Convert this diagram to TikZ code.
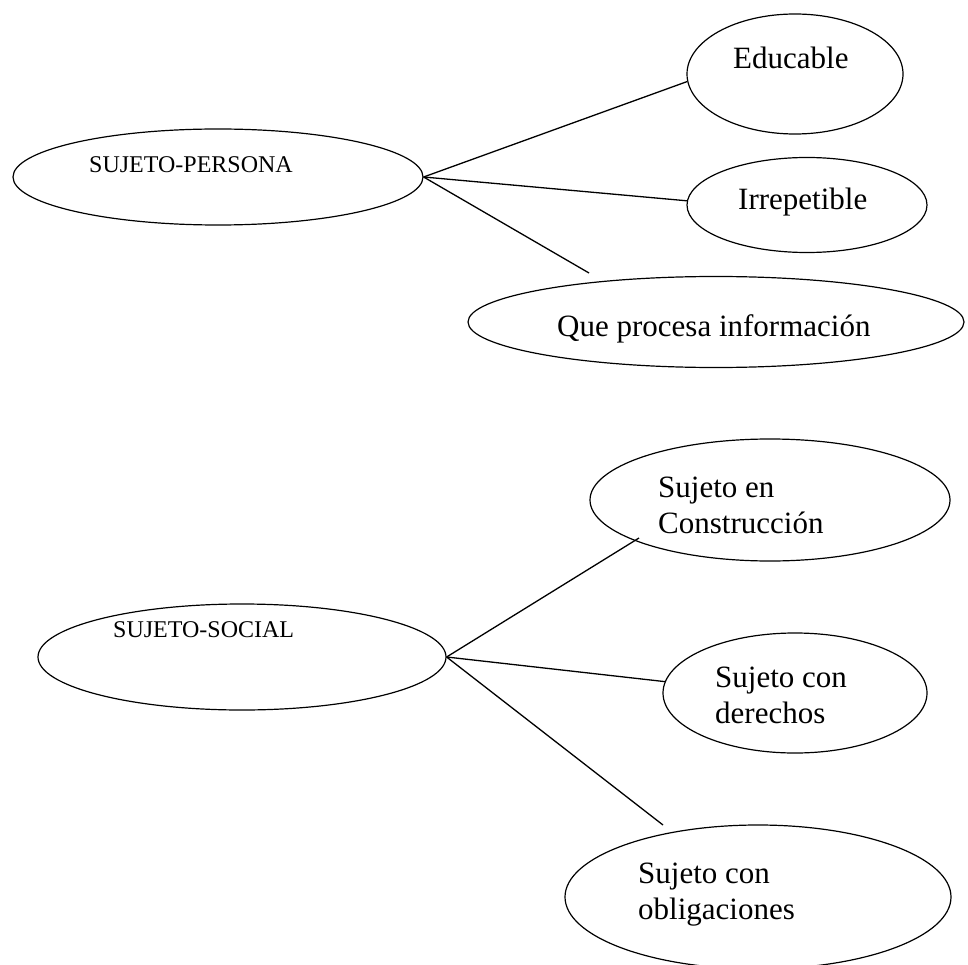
\documentclass[tikz,border=0pt]{standalone}
\usepackage{fontspec}
\setmainfont{Liberation Serif}
\usetikzlibrary{shapes.geometric}
\tikzset{
    bubble/.style={draw, ellipse, line width=1.2pt, inner sep=0pt},
    smalltext/.style={anchor=base west, inner sep=0pt, font=\fontsize{24}{28}\selectfont},
    bigtext/.style={anchor=base west, inner sep=0pt, align=left, font=\fontsize{31}{36}\selectfont},
    link/.style={line width=1.3pt}
}

\begin{document}
\begin{tikzpicture}[x=1pt, y=-1pt]
    \useasboundingbox (0,0) rectangle (968,965);

    % first group
    \node[bubble, minimum width=410, minimum height=96] (persona) at (218,177) {};
    \node[smalltext] (persona-text) at (89,173) {SUJETO-PERSONA};

    \node[bubble, minimum width=216, minimum height=120] (edu) at (795,74) {};
    \node[bigtext] (edu-text) at (733,69) {Educable};

    \node[bubble, minimum width=240, minimum height=95] (irr) at (807,205) {};
    \node[bigtext] (irr-text) at (738,210) {Irrepetible};

    \node[bubble, minimum width=496, minimum height=91] (que) at (716,322) {};
    \node[bigtext] (que-text) at (557,336) {Que procesa información};
    \coordinate (que-tip) at (589,273);

    \draw[link] (persona.east) -- (edu.184);
    \draw[link] (persona.east) -- (irr.178);
    \draw[link] (persona.east) -- (que-tip);

    % second group
    \node[bubble, minimum width=408, minimum height=106] (social) at (242,657) {};
    \node[smalltext] (social-text) at (113,637) {SUJETO-SOCIAL};

    \node[bubble, minimum width=360, minimum height=122] (constr) at (770,500) {};
    \node[bigtext] (constr-text) at (658,533) {Sujeto en\\Construcción};
    \coordinate (constr-tip) at (639,538);

    \node[bubble, minimum width=264, minimum height=120] (der) at (795,693) {};
    \node[bigtext] (der-text) at (715,723) {Sujeto con\\derechos};

    \node[bubble, minimum width=386, minimum height=144] (oblig) at (758,897) {};
    \node[bigtext] (oblig-text) at (638,919) {Sujeto con\\obligaciones};
    \coordinate (oblig-tip) at (663,825);

    \draw[link] (social.east) -- (constr-tip);
    \draw[link] (social.east) -- (der.175);
    \draw[link] (social.east) -- (oblig-tip);
\end{tikzpicture}
\end{document}
